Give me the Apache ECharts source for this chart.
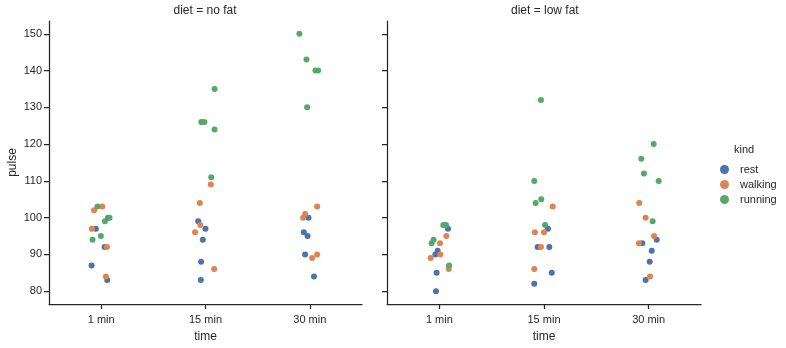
<!DOCTYPE html>
<html><head><meta charset="utf-8">
<script src="https://cdn.jsdelivr.net/npm/echarts@6/dist/echarts.min.js"></script>
<style>html,body{margin:0;padding:0;background:#fff}#c{width:786px;height:348px}</style>
</head><body><div id="c"></div>
<script>
const times = ['1 min', '15 min', '30 min'];
const kinds = ['rest', 'walking', 'running'];
const panels = ['diet = no fat', 'diet = low fat'];
const yTicks = [80, 90, 100, 110, 120, 130, 140, 150];
const colors = ['#4C72B0', '#DD8452', '#55A868'];
// time index of each observation (5 subjects x 3 times)
const timeIdx = [0,0,0,0,0, 1,1,1,1,1, 2,2,2,2,2];

// diet = no fat
const noFatRestPulse = [83,87,92,97,100, 83,88,94,99,97, 84,90,95,96,100];
const noFatRestJitter = [0.058,-0.092,0.033,-0.051,0.067, -0.045,-0.042,-0.026,-0.07,0, 0.04,-0.045,-0.022,-0.058,-0.013];
const noFatWalkPulse = [84,103,92,97,102, 86,109,96,98,104, 89,90,101,100,103];
const noFatWalkJitter = [0.045,0.01,0.055,-0.089,-0.068, 0.083,0.051,-0.1,-0.05,-0.054, 0.022,0.07,-0.045,-0.064,0.07];
const noFatRunPulse = [95,100,103,94,99, 126,126,124,135,111, 143,140,140,130,150];
const noFatRunJitter = [-0.003,0.08,-0.035,-0.083,0.036, -0.04,-0.01,0.087,0.087,0.055, -0.032,0.054,0.08,-0.026,-0.1];

// diet = low fat
const lowFatRestPulse = [85,90,97,80,91, 85,92,97,82,92, 88,93,94,83,91];
const lowFatRestJitter = [-0.026,-0.038,0.083,-0.032,-0.016, 0.074,-0.061,0.038,-0.093,0.051, 0.01,-0.061,0.077,-0.029,0.029];
const lowFatWalkPulse = [86,93,90,95,89, 86,103,92,96,96, 84,104,93,100,95];
const lowFatWalkJitter = [0.09,0.006,0.01,0.067,-0.083, -0.093,0.083,-0.029,-0.087,0, 0.013,-0.09,-0.093,-0.029,0.051];
const lowFatRunPulse = [93,98,98,87,94, 98,104,105,132,110, 110,112,99,120,116];
const lowFatRunJitter = [-0.074,0.038,0.064,0.093,-0.055, 0.01,-0.08,-0.026,-0.029,-0.093, 0.096,-0.045,0.038,0.048,-0.07];

const panelData = [
  [[noFatRestPulse, noFatRestJitter], [noFatWalkPulse, noFatWalkJitter], [noFatRunPulse, noFatRunJitter]],
  [[lowFatRestPulse, lowFatRestJitter], [lowFatWalkPulse, lowFatWalkJitter], [lowFatRunPulse, lowFatRunJitter]]
];

const font = 'Liberation Sans, Arial, sans-serif';
const ink = '#262626';
const grids = [
  {left: 49, top: 21, width: 313, height: 286},
  {left: 387, top: 21, width: 314, height: 286}
];

const xAxes = grids.map((g, i) => ({
  type: 'value', gridIndex: i, min: -0.5, max: 2.5,
  name: 'time', nameLocation: 'middle', nameGap: 27,
  nameTextStyle: {color: ink, fontSize: 12, fontFamily: font},
  axisLine: {onZero: false, lineStyle: {color: ink, width: 1.25}},
  axisTick: {length: 5, customValues: [0, 1, 2], lineStyle: {color: ink, width: 1.25}},
  axisLabel: {customValues: [0, 1, 2], formatter: v => times[Math.round(v)], color: ink, fontSize: 11, fontFamily: font, margin: 10},
  splitLine: {show: false}
}));

const yAxes = grids.map((g, i) => ({
  type: 'value', gridIndex: i, min: 76.5, max: 153.5,
  name: i === 0 ? 'pulse' : '', nameLocation: 'middle', nameGap: 30,
  nameTextStyle: {color: ink, fontSize: 12, fontFamily: font},
  axisLine: {show: true, onZero: false, lineStyle: {color: ink, width: 1.25}},
  axisTick: {show: true, length: 5, customValues: yTicks, lineStyle: {color: ink, width: 1.25}},
  axisLabel: {show: i === 0, customValues: yTicks, color: ink, fontSize: 11, fontFamily: font, margin: 7},
  splitLine: {show: false}
}));

const series = [];
panelData.forEach((panel, p) => {
  panel.forEach(([pulse, jit], k) => {
    series.push({
      type: 'scatter', name: kinds[k], xAxisIndex: p, yAxisIndex: p,
      symbol: 'circle', symbolSize: 6,
      itemStyle: {color: colors[k], opacity: 1},
      data: pulse.map((v, j) => [timeIdx[j] + jit[j], v])
    });
  });
});

const chart = echarts.init(document.getElementById('c'), null, {renderer: 'canvas'});
chart.setOption({
  animation: false,
  backgroundColor: '#fff',
  color: colors,
  grid: grids,
  xAxis: xAxes,
  yAxis: yAxes,
  series: series,
  legend: {
    data: kinds, orient: 'vertical', left: 715, top: 159,
    icon: 'circle', itemWidth: 9, itemHeight: 9, itemGap: 4,
    textStyle: {color: ink, fontSize: 11, fontFamily: font, padding: [0, 0, 0, 6]}
  },
  graphic: [
    {type: 'text', left: 205.5 - 32, top: 5, style: {text: panels[0], fill: ink, font: '12px ' + font}},
    {type: 'text', left: 544 - 33, top: 5, style: {text: panels[1], fill: ink, font: '12px ' + font}},
    {type: 'text', left: 734, top: 144, style: {text: 'kind', fill: ink, font: '11px ' + font}}
  ]
});
</script></body></html>
